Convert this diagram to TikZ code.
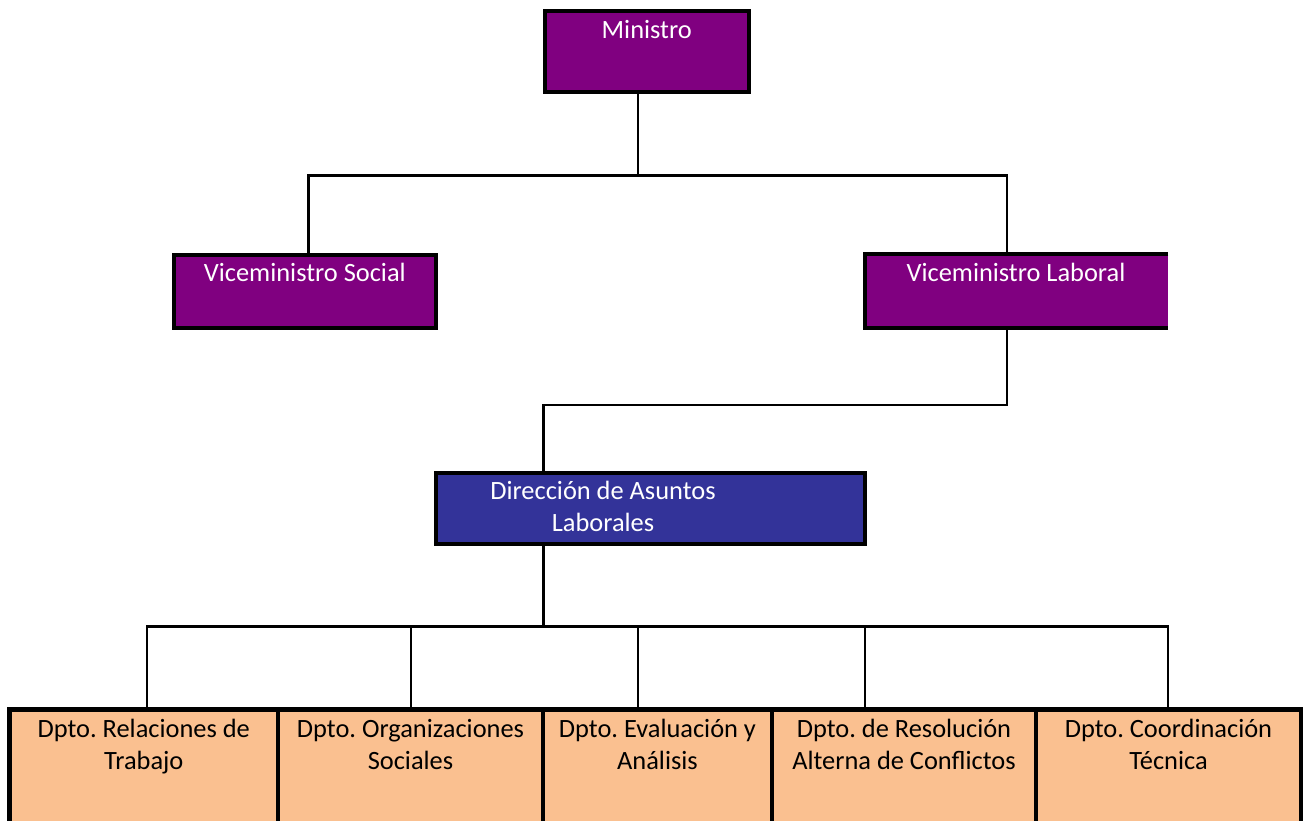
\documentclass[tikz,border=0pt]{standalone}
\usepackage{fontspec}
\setmainfont{Carlito}
\frenchspacing
\definecolor{minpurple}{HTML}{800080}
\definecolor{dirblue}{HTML}{333399}
\definecolor{dptorange}{HTML}{FAC090}
\tikzset{
  boxline/.style={draw=black, line width=4.2pt, line join=miter},
  orgbox/.style={rectangle, inner sep=0pt, outer sep=0pt, boxline},
  conn/.style={draw=black, line width=2.6pt, line join=miter},
  lbl/.style={inner sep=0pt, anchor=north, align=center, font=\fontsize{26.4}{32}\selectfont\frenchspacing, execute at begin node=\strut},
  lblw/.style={lbl, text=white},
}
\begin{document}
\begin{tikzpicture}[x=1pt, y=-1pt]
\useasboundingbox (0,0) rectangle (1310,821);
\clip (0,0) rectangle (1310,821);

% boxes
\node[orgbox, fill=minpurple, minimum width=204pt, minimum height=80.7pt] (min) at (646.7,51.65) {};
\node[orgbox, fill=minpurple, minimum width=262.3pt, minimum height=73.6pt] (vs) at (304.85,291.5) {};
\node[rectangle, inner sep=0pt, outer sep=0pt, fill=minpurple, minimum width=303pt, minimum height=74.1pt] (vl) at (1016.8,291.25) {};
\draw[boxline] (vl.north east) -- (vl.north west) -- (vl.south west) -- (vl.south east);
\node[orgbox, fill=dirblue, minimum width=428.5pt, minimum height=71.4pt] (dal) at (650.45,508.5) {};

\node[orgbox, fill=dptorange, minimum width=268.5pt, minimum height=140.5pt] (d1) at (143.75,779.75) {};
\node[orgbox, fill=dptorange, minimum width=265pt, minimum height=140.5pt] (d2) at (410.5,779.75) {};
\node[orgbox, fill=dptorange, minimum width=229pt, minimum height=140.5pt] (d3) at (657.5,779.75) {};
\node[orgbox, fill=dptorange, minimum width=264pt, minimum height=140.5pt] (d4) at (904,779.75) {};
\node[orgbox, fill=dptorange, minimum width=265pt, minimum height=140.5pt] (d5) at (1168.5,779.75) {};

% labels
\node[lblw] (tmin) at (646.7,16.4) {Ministro};
\node[lblw] (tvs) at (304.85,258.8) {Viceministro Social};
\node[lblw] (tvl) at (1016,258.8) {Viceministro Laboral};
\node[lblw] (tdal) at (603,480.8) {Dirección de Asuntos\\Laborales};
\node[lbl] (td1) at (143.75,719.4) {Dpto. Relaciones de\\Trabajo};
\node[lbl] (td2) at (410.5,719.4) {Dpto. Organizaciones\\Sociales};
\node[lbl] (td3) at (657.5,719.4) {Dpto. Evaluación y\\Análisis};
\node[lbl] (td4) at (904,719.4) {Dpto. de Resolución\\Alterna de Conflictos};
\node[lbl] (td5) at (1168.5,719.4) {Dpto. Coordinación\\Técnica};

% bus coordinates
\coordinate (b1c) at (638,175.5);
\coordinate (b1l) at (308.7,175.5);
\coordinate (b1r) at (1007,175.5);
\coordinate (b2r) at (1007,405);
\coordinate (b2l) at (543.3,405);
\coordinate (b3c) at (543.3,626.5);
\coordinate (b3a) at (147,626.5);
\coordinate (b3b) at (411,626.5);
\coordinate (b3m) at (638,626.5);
\coordinate (b3d) at (865,626.5);
\coordinate (b3e) at (1168,626.5);

% connectors
\draw[conn] (b1c |- min.south) -- (b1c);
\draw[conn] (vs.north -| b1l) -- (b1l) -- (b1r) -- (vl.north -| b1r);
\draw[conn] (vl.south -| b2r) -- (b2r) -- (b2l) -- (dal.north -| b2l);
\draw[conn] (dal.south -| b3c) -- (b3c);
\draw[conn] (d1.north -| b3a) -- (b3a) -- (b3e) -- (d5.north -| b3e);
\draw[conn] (b3b) -- (d2.north -| b3b);
\draw[conn] (b3m) -- (d3.north -| b3m);
\draw[conn] (b3d) -- (d4.north -| b3d);
\end{tikzpicture}
\end{document}
